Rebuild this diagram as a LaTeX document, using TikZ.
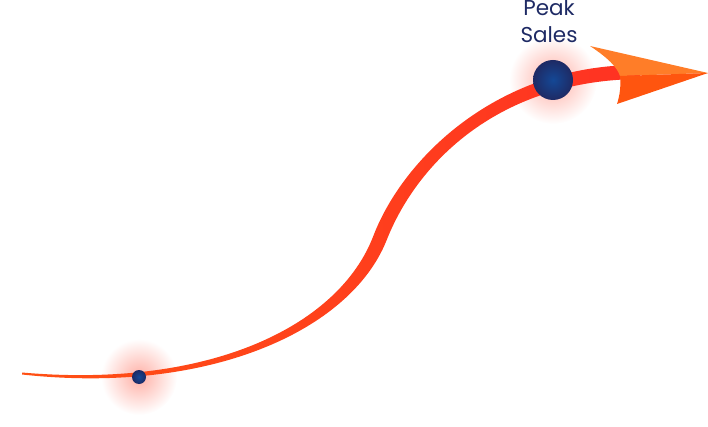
\documentclass[tikz,border=0pt]{standalone}
\usepackage{fontspec}
\setmainfont{Poppins}
\usepackage{tikz}
\usetikzlibrary{positioning}
\definecolor{navy}{RGB}{30, 42, 100}
\definecolor{dotblue}{RGB}{20, 72, 150}
\definecolor{ribbonleft}{RGB}{255, 80, 20}
\definecolor{ribbonright}{RGB}{255, 50, 35}
\definecolor{headlight}{RGB}{255, 125, 40}
\definecolor{headdark}{RGB}{255, 85, 15}
\definecolor{glowred}{RGB}{255, 175, 165}

\begin{document}
\begin{tikzpicture}[x=1pt,y=-1pt,
    glow/.style={inner color=glowred, outer color=white},
    ball/.style={inner color=dotblue, outer color=navy},
    label/.style={text=navy, font=\fontsize{21.5}{27}\selectfont, align=center}]
    \useasboundingbox (0,0) rectangle (708,427);

    % key points
    \coordinate (start) at (139,377);
    \coordinate (peak) at (553,80);

    % soft glow behind the points
    \shade[glow] (start) circle (38);
    \shade[glow] (peak) circle (44);

    % tapered sales curve
    \shade[left color=ribbonleft, right color=ribbonright]
        (22,372.5) .. controls (210,389) and (339.4,325.8) .. (373.5,235.5)
        .. controls (404.1,156.4) and (500,64) .. (640,65)
        -- (640,79)
        .. controls (500,80) and (417.5,161.6) .. (386.5,240.5)
        .. controls (350.6,330.2) and (210,395) .. (22,374.5)
        -- cycle;

    % arrow head
    \fill[headlight] (590,46) .. controls (608,58) and (617,67) .. (620,76)
        -- (708,73) -- cycle;
    \fill[headdark] (620,76) -- (708,73) -- (617,104)
        .. controls (620,95) and (621,85) .. (620,76) -- cycle;

    % points
    \shade[ball] (start) circle (7);
    \shade[ball] (peak) circle (20);

    \node[label] (peaklabel) at (549,21) {Peak\\Sales};
\end{tikzpicture}
\end{document}
